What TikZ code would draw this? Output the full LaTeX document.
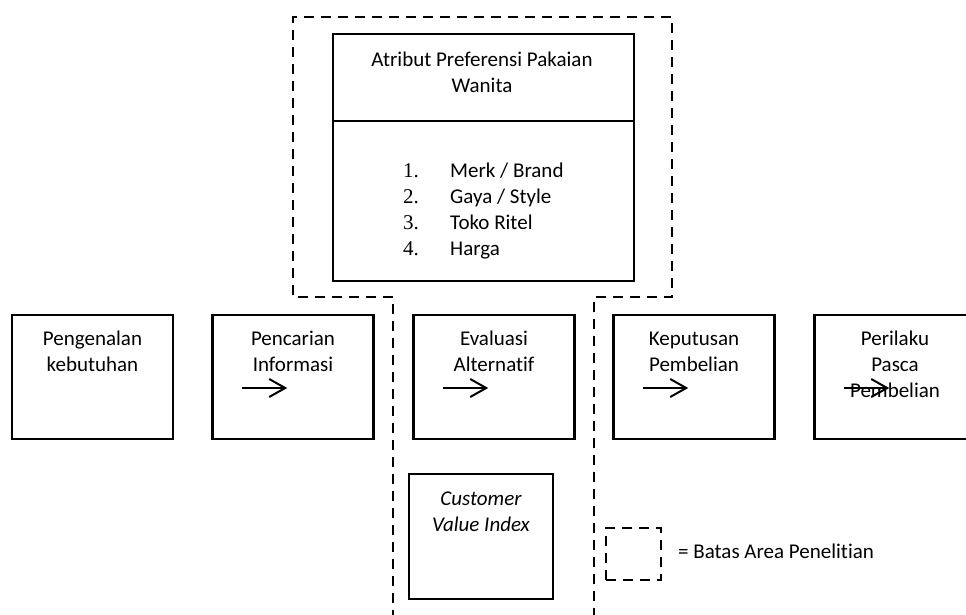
\documentclass[tikz,border=0pt]{standalone}
\usepackage{fontspec}
\setmainfont{Carlito}[Ligatures=NoCommon]
\newfontfamily\numfont{Liberation Serif}
\usetikzlibrary{arrows.meta,positioning}

\begin{document}
\begin{tikzpicture}[x=1pt, y=-1pt, >={Straight Barb[length=16pt,width=18pt,line width=2pt]},
  box/.style={draw, line width=2.5pt, inner sep=0pt},
  lbl/.style={inner sep=0pt, align=center, font=\fontsize{21}{26}\selectfont},
  area/.style={line width=2.5pt, dash pattern=on 10pt off 7pt}]
\clip (0,0) rectangle (966,614);

% Research area
\draw[area] (393,620) -- (393,297) -- (293,297) -- (293,17) -- (672,17) -- (672,297) -- (594,297) -- (594,620);

% Attributes (base anchor = last line)
\node[box, minimum width=301pt, minimum height=247pt] (attr) at (483.5,157.5) {};
\draw[line width=2.5pt] ([yshift=-88pt]attr.north west) -- ([yshift=-88pt]attr.north east);
\node[lbl, anchor=base] (attrtitle) at (482,92) {Atribut Preferensi Pakaian\\Wanita};
\foreach \i/\txt in {1/{Merk / Brand}, 2/{Gaya / Style}, 3/{Toko Ritel}, 4/{Harga}} {
    \node[lbl, anchor=base west, font=\fontsize{21}{26}\numfont] (num\i) at (403,{177.5+26*(\i-1)}) {\i.};
    \node[lbl, anchor=base west] (item\i) at (450,{177.5+26*(\i-1)}) {\txt};
}

% Decision stages
\foreach \i/\x/\dy/\txt in {1/92.5/58/{Pengenalan\\kebutuhan}, 2/293/58/{Pencarian\\Informasi}, 3/494/58/{Evaluasi\\Alternatif}, 4/694/58/{Keputusan\\Pembelian}, 5/895/84/{Perilaku\\Pasca\\Pembelian}} {
    \node[box, minimum width=161pt, minimum height=124pt] (s\i) at (\x,377) {};
    \node[lbl, anchor=base] (t\i) at ([yshift=-\dy pt]s\i.north) {\txt};
}
\foreach \i in {2,...,5}
    \draw[->, line width=2pt] ([shift={(31pt,-11pt)}]s\i.west) -- ++(45pt,0pt);

% Customer value index
\node[box, minimum width=144pt, minimum height=125pt] (cvi) at (481,536.5) {};
\node[lbl, anchor=base, font=\fontsize{21}{26}\selectfont\itshape] (cvitxt) at ([yshift=-59pt]cvi.north) {Customer\\Value Index};

% Legend
\node[box, area, minimum width=55pt, minimum height=52pt] (legend) at (633.5,554) {};
\node[lbl, anchor=base west] (legendtxt) at (678,558) {= Batas Area Penelitian};
\end{tikzpicture}
\end{document}
